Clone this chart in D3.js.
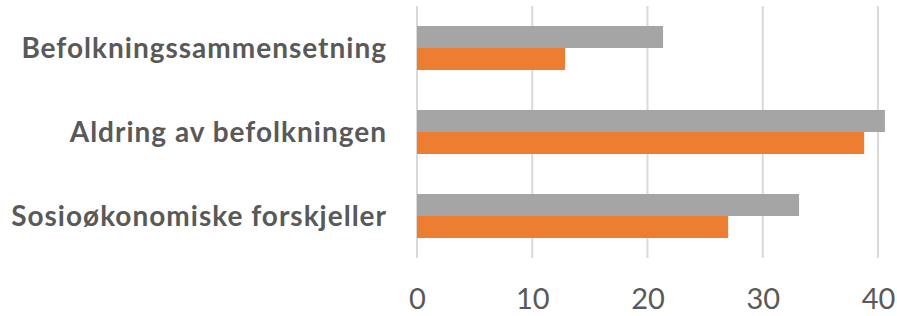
<!DOCTYPE html>
<html>
<head>
<meta charset="utf-8">
<script src="https://cdn.jsdelivr.net/npm/d3@7"></script>
<style>
  html, body { margin: 0; padding: 0; background: #fff; }
  svg { display: block; }
</style>
</head>
<body>
<svg id="chart" width="897" height="316"></svg>
<script>
const categories = ["Befolkningssammensetning", "Aldring av befolkningen", "Sosioøkonomiske forskjeller"];
const seriesNames = ["Serie 2", "Serie 1"];
const seriesGrey = [21.35, 40.6, 33.15];
const seriesOrange = [12.85, 38.8, 27.0];
const tickValues = [0, 10, 20, 30, 40];
const colors = ["#A5A5A5", "#ED7D31"];

const svg = d3.select("#chart");
const margin = { left: 417, right: 19, top: 6, bottom: 58 };
const W = 897, H = 316;

const x = d3.scaleLinear().domain([0, 40]).range([margin.left, W - margin.right]);
const y = d3.scaleBand().domain(categories).range([margin.top, H - margin.bottom]).paddingInner(0.476).paddingOuter(0.238);
const ySub = d3.scaleBand().domain(seriesNames).range([0, y.bandwidth()]);

// gridlines
svg.append("g").selectAll("line").data(tickValues).join("line")
  .attr("x1", d => x(d)).attr("x2", d => x(d))
  .attr("y1", margin.top).attr("y2", H - margin.bottom)
  .attr("stroke", "#D9D9D9").attr("stroke-width", 2);

const data = categories.map((c, i) => ({ cat: c, vals: [seriesGrey[i], seriesOrange[i]] }));

const g = svg.append("g").selectAll("g").data(data).join("g")
  .attr("transform", d => `translate(0,${y(d.cat)})`);
g.selectAll("rect").data(d => d.vals.map((v, j) => ({ v, j }))).join("rect")
  .attr("x", x(0))
  .attr("y", d => ySub(seriesNames[d.j]))
  .attr("width", d => x(d.v) - x(0))
  .attr("height", ySub.bandwidth())
  .attr("fill", d => colors[d.j]);

// x axis labels
const xAxis = d3.axisBottom(x).tickValues(tickValues).tickSize(0).tickPadding(0);
const ax = svg.append("g").attr("transform", `translate(0,${H - margin.bottom})`).call(xAxis);
ax.select(".domain").remove();
ax.selectAll("text")
  .attr("dy", null).attr("y", 51)
  .attr("font-family", "Lato, 'Open Sans', sans-serif")
  .attr("font-size", 29)
  .attr("fill", "#595959");

// y axis labels
const yAxis = d3.axisLeft(y).tickSize(0).tickPadding(0);
const ay = svg.append("g").attr("transform", `translate(387,0)`).call(yAxis);
ay.select(".domain").remove();
ay.selectAll("text")
  .attr("dy", "0.35em")
  .attr("font-family", "Lato, 'Open Sans', sans-serif")
  .attr("font-weight", "bold")
  .attr("font-size", 28)
  .attr("letter-spacing", "1px")
  .attr("fill", "#595959");
</script>
</body>
</html>
